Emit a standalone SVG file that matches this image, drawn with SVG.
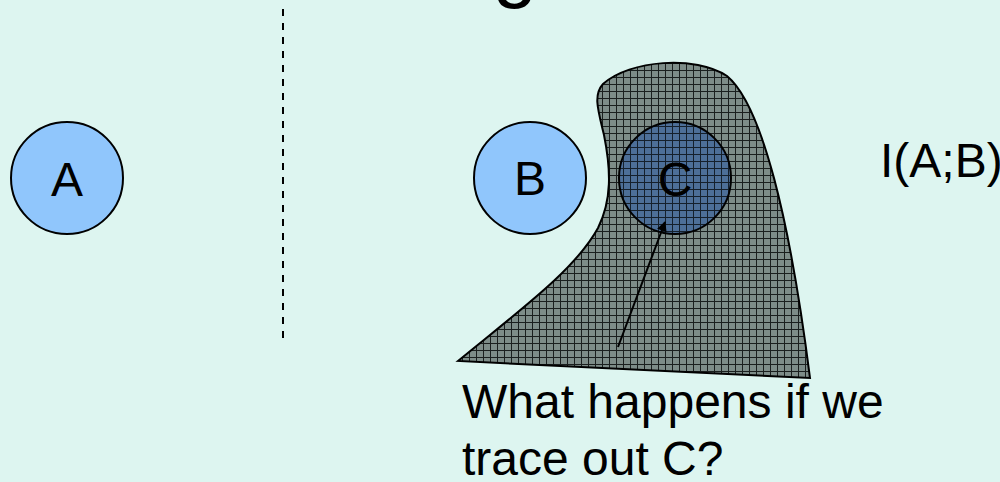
<svg xmlns="http://www.w3.org/2000/svg" width="1000" height="482" viewBox="0 0 1000 482">
<defs>
<pattern id="gridGray" width="7" height="7" patternUnits="userSpaceOnUse">
<rect width="7" height="7" fill="#7d8c88"/>
<path d="M0 0.5H7M0.5 0V7" stroke="#1a1f1e" stroke-width="1"/>
</pattern>
<pattern id="gridBlue" width="7" height="7" patternUnits="userSpaceOnUse">
<rect width="7" height="7" fill="#4d6f98"/>
<path d="M0 0.5H7M0.5 0V7" stroke="#15202c" stroke-width="1"/>
</pattern>
<marker id="arrow" viewBox="0 0 10 10" refX="9" refY="5" markerWidth="5" markerHeight="5" orient="auto" markerUnits="strokeWidth">
<path d="M0 0L10 5L0 10Z" fill="#000"/>
</marker>
</defs>
<style>
.lbl{font-family:"Liberation Sans",Arial,sans-serif;font-size:48px;fill:#000}
.node{stroke:#000;stroke-width:2}
</style>
<rect width="1000" height="482" fill="#ddf5f0"/>
<text class="lbl" x="515" y="-8" text-anchor="middle" style="font-size:80px">g</text>
<line x1="283" y1="9" x2="283" y2="338" stroke="#000" stroke-width="2" stroke-dasharray="7 7"/>
<g id="nodeA">
<circle class="node" cx="67" cy="178" r="56" fill="#90c6fc"/>
<text class="lbl" x="67" y="196" text-anchor="middle">A</text>
</g>
<g id="nodeB">
<circle class="node" cx="530" cy="178" r="56" fill="#90c6fc"/>
<text class="lbl" x="530" y="195" text-anchor="middle">B</text>
</g>
<g id="region">
<path d="M458 361 C520 310 575 270 598 228 C612 200 611 170 604 135 C598 110 593 95 603 84 C630 60 695 55 727 76 C762 105 790 220 810 378 Z" fill="url(#gridGray)" stroke="#000" stroke-width="2"/>
</g>
<g id="nodeC">
<circle class="node" cx="675" cy="178" r="56" fill="url(#gridBlue)"/>
<text class="lbl" x="675" y="196" text-anchor="middle">C</text>
</g>
<g id="connectors">
<line x1="618" y1="347" x2="665" y2="222" stroke="#000" stroke-width="2" marker-end="url(#arrow)"/>
</g>
<g id="labels">
<text class="lbl" x="880" y="177">I(A;B)</text>
<text class="lbl" x="462" y="418">What happens if we</text>
<text class="lbl" x="462" y="475">trace out C?</text>
</g>
</svg>
